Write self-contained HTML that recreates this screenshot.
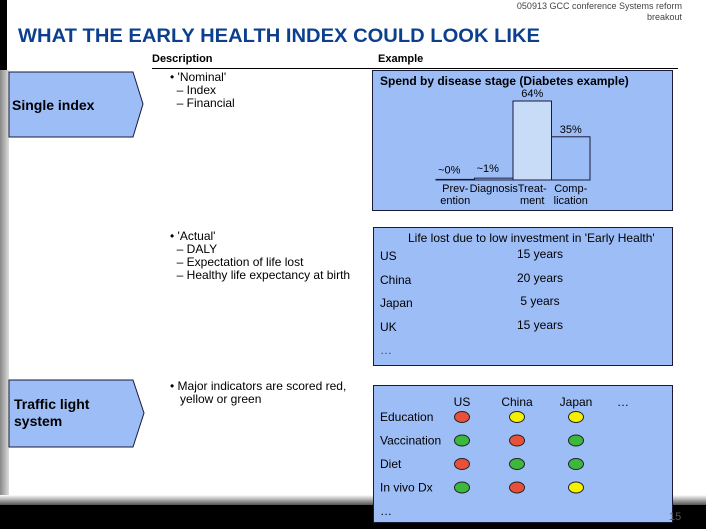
<!DOCTYPE html>
<html><head><meta charset="utf-8"><style>
body{margin:0;width:706px;height:529px;overflow:hidden;background:#fff;position:relative;font-family:"Liberation Sans",sans-serif;color:#000}
.a{position:absolute;white-space:nowrap}
.box{position:absolute;background:#9dbdf7;border:1px solid #1a1a3a;box-sizing:border-box}
.t{font-size:12px}
</style></head><body>
<div class="a" style="left:0;top:0;width:7px;height:70px;background:#000"></div>
<div class="a" style="left:0;top:70px;width:9px;height:440px;background:linear-gradient(90deg,#888,#ddd)"></div>
<div class="a" style="left:0;top:505px;width:706px;height:24px;background:#000"></div>
<div class="a" style="left:0;top:495px;width:706px;height:10px;background:linear-gradient(#fff,#555)"></div>
<div class="a" style="right:24px;top:1px;font-size:9px;color:#444;text-align:right;line-height:11px">050913 GCC conference Systems reform<br>breakout</div>
<svg class="a" style="left:0;top:0" width="706" height="60">
<text x="18" y="42" font-size="19" font-weight="bold" fill="#0d3f8f" font-family="Liberation Sans" textLength="522" lengthAdjust="spacingAndGlyphs">WHAT THE EARLY HEALTH INDEX COULD LOOK LIKE</text>
</svg>
<div class="a t" style="left:152px;top:53px;font-size:11px;font-weight:bold">Description</div>
<div class="a t" style="left:378px;top:53px;font-size:11px;font-weight:bold">Example</div>
<div class="a" style="left:152px;top:68px;width:526px;height:1px;background:#000"></div>

<svg class="a" style="left:0;top:0" width="706" height="529">
<polygon points="9,72 133,72 143,104 133,137 9,137" fill="#9dbdf7" stroke="#1a1a3a"/>
<polygon points="9,380 133,380 144,413 133,447 9,447" fill="#9dbdf7" stroke="#1a1a3a"/>
<text x="12" y="110" font-size="14" font-weight="bold" font-family="Liberation Sans">Single index</text>
<text x="14" y="409" font-size="14" font-weight="bold" font-family="Liberation Sans">Traffic light</text>
<text x="14" y="426" font-size="14" font-weight="bold" font-family="Liberation Sans">system</text>
</svg>

<div class="a t" style="left:170px;top:71px;line-height:13px">• 'Nominal'<br>&nbsp;&nbsp;– Index<br>&nbsp;&nbsp;– Financial</div>
<div class="a t" style="left:170px;top:230px;line-height:13px">• 'Actual'<br>&nbsp;&nbsp;– DALY<br>&nbsp;&nbsp;– Expectation of life lost<br>&nbsp;&nbsp;– Healthy life expectancy at birth</div>
<div class="a t" style="left:170px;top:380px;line-height:13px">• Major indicators are scored red,<br>&nbsp;&nbsp;&nbsp;yellow or green</div>

<div class="box" style="left:372px;top:70px;width:301px;height:141px"></div>
<svg class="a" id="chart" style="left:0;top:0" width="706" height="529">
<text x="380" y="85" font-size="12" font-weight="bold" font-family="Liberation Sans">Spend by disease stage (Diabetes example)</text>
</svg>

<div class="box" style="left:373px;top:227px;width:300px;height:139px"></div>
<div class="a t" style="left:408px;top:231px">Life lost due to low investment in 'Early Health'</div>
<div id="life"></div>

<div class="box" style="left:373px;top:385px;width:300px;height:138px"></div>
<svg class="a" id="traffic" style="left:0;top:0" width="706" height="529"></svg>
<div class="a" style="left:669px;top:511px;font-size:11px;color:#555">15</div>

<script>
const stages=["Prev-|ention","Diagnosis|","Treat-|ment","Comp-|lication"];
const spend=[0.5,1.5,64,35];
const spendLabels=["~0%","~1%","64%","35%"];
const countries=["US","China","Japan","UK","…"];
const lifeYears=["15 years","20 years","5 years","15 years",""];
const tlCols=["US","China","Japan","…"];
const tlRows=["Education","Vaccination","Diet","In vivo Dx","…"];
const tlUS=["r","g","r","g"];
const tlChina=["y","r","g","r"];
const tlJapan=["y","g","g","y"];

const NS="http://www.w3.org/2000/svg";
function mk(p,tag,at,txt){const e=document.createElementNS(NS,tag);for(const k in at)e.setAttribute(k,at[k]);if(txt!==undefined)e.textContent=txt;p.appendChild(e);return e;}
const ch=document.getElementById('chart');
const base=180,x0=436,bw=38.5,sc=79/64;
const xB=i=>x0+i*bw, yV=v=>base-v*sc;
spend.forEach((v,i)=>{
  const r=mk(ch,'rect',{x:xB(i),y:yV(v),width:bw,height:base-yV(v),fill:i==2?'#c8dcf8':(i==0?'#1a2a5a':'#9dbdf7'),stroke:'#1a1a3a','stroke-width':1});
  
  
  const lab=mk(ch,'text',{x:xB(i)+bw/2+(i<2?-6:0),y:yV(v)-(i<2?6:4),'text-anchor':'middle','font-size':11,'font-family':'Liberation Sans'},spendLabels[i]);
  
  
  const parts=stages[i].split('|');
  const t1=mk(ch,'text',{x:xB(i)+bw/2,y:192,'text-anchor':'middle','font-size':11,'font-family':'Liberation Sans'},parts[0]);
  
  
  if(parts[1]){const t2=mk(ch,'text',{x:xB(i)+bw/2,y:204,'text-anchor':'middle','font-size':11,'font-family':'Liberation Sans'},parts[1]);
  
  }
});
const life=document.getElementById('life');
countries.forEach((c,i)=>{
  const y=249+i*23.5;
  const d=document.createElement('div');d.className='a t';d.style.cssText=`left:380px;top:${y}px;color:${c=='…'?'#444':'#000'}`;d.textContent=c;
  
  
  life.appendChild(d);
  if(lifeYears[i]){const e=document.createElement('div');e.className='a t';e.style.cssText=`left:540px;top:${y-2}px;transform:translateX(-50%)`;e.textContent=lifeYears[i];
  
  
  life.appendChild(e);}
});
const tr=document.getElementById('traffic');
const colX=[462,517,576,623];
const col={r:'#e8503a',y:'#f5f000',g:'#3cb83c'};
tlCols.forEach((c,i)=>{const t=mk(tr,'text',{x:colX[i],y:406,'text-anchor':'middle','font-size':12,'font-family':'Liberation Sans'},c);
  
  });
const grid=[tlUS,tlChina,tlJapan];
tlRows.forEach((r,j)=>{
  const y=421+j*23.5;
  const t=mk(tr,'text',{x:380,y:y,'font-size':12,'font-family':'Liberation Sans'},r);
  
  
  grid.forEach((g,i)=>{if(g[j]){const e=mk(tr,'ellipse',{cx:colX[i],cy:y-4,rx:7.5,ry:5.5,fill:col[g[j]],stroke:'#222'});
    
    }});
});
</script>
</body></html>
